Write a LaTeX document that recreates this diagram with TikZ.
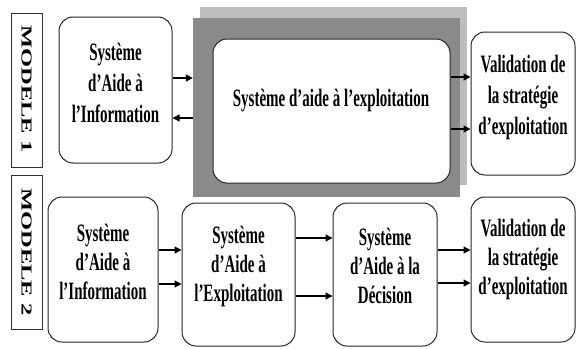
\documentclass[tikz,border=0pt]{standalone}
\usepackage{fontspec}
\usepackage{graphicx}
\setmainfont{Liberation Serif}[FakeStretch=0.6]
\newfontfamily\labfont{Liberation Serif}
\usetikzlibrary{arrows.meta,calc}
\begin{document}
\begin{tikzpicture}[x=1pt,y=-1pt,
 box/.style={draw=black!85, line width=1pt, rounded corners=14pt, fill=white, inner sep=0pt},
 labbox/.style={draw=black!80, line width=1pt, fill=white, inner sep=0pt, minimum width=31pt, minimum height=154pt},
 labtxt/.style={rotate=-90, inner sep=0pt, font=\labfont\bfseries\fontsize{24.5}{24.5}\selectfont},
 txtA/.style={font=\fontsize{25}{31}\selectfont\bfseries, align=center, inner sep=0pt},
 txtB/.style={font=\fontsize{25}{29}\selectfont\bfseries, align=center, inner sep=0pt},
 arr/.style={line width=1.3pt, -{Triangle[length=7pt,width=7pt]}},
]
\useasboundingbox (0,0) rectangle (577,348);
\fill[white] (0,0) rectangle (577,348);

% labels
\node[labbox] (L1) at (26.5,90) {};
\node[labtxt] (L1t) at (26.5,89) {\scalebox{1}[0.62]{MODELE 1}};
\node[labbox] (L2) at (26.5,252) {};
\node[labtxt] (L2t) at (26.5,252) {\scalebox{1}[0.62]{MODELE 2}};

% model 1
\node[box, minimum width=113pt, minimum height=146pt] (A) at (115.5,90) {};
\node[txtA] (tA) at (115.5,83) {Système\\d’Aide à\\l’Information};

\node[fill=black!26, inner sep=0pt, minimum width=267pt, minimum height=178pt] (G) at (333.5,96) {};
\node[fill=black!46, inner sep=0pt, minimum width=267pt, minimum height=179pt] (D) at (326.5,107.5) {};
\node[box, minimum width=237pt, minimum height=144pt] (I) at (331.5,111) {};
\node[txtA] (tI) at (331,101) {Système d’aide à l’exploitation};

\node[box, minimum width=104pt, minimum height=143pt] (V1) at (523,103.5) {};
\node[txtA] (tV1) at (523,97) {Validation de\\la stratégie\\d’exploitation};

\draw[arr] (A.east |- 0,78) -- (D.west |- 0,78);
\draw[arr] (D.west |- 0,118) -- (A.east |- 0,118);
\draw[arr] (I.east |- 0,77) -- (V1.west |- 0,77);
\draw[arr] (I.east |- 0,129) -- (V1.west |- 0,129);

% model 2
\node[box, minimum width=110pt, minimum height=145pt] (B1) at (103,269.5) {};
\node[txtB] (tB1) at (103,262) {Système\\d’Aide à\\l’Information};
\node[box, minimum width=113pt, minimum height=143pt] (B2) at (238.5,274.5) {};
\node[txtB] (tB2) at (238.5,266) {Système\\d’Aide à\\l’Exploitation};
\node[box, minimum width=104pt, minimum height=143pt] (B3) at (385,274.5) {};
\node[txtB] (tB3) at (385,266) {Système\\d’Aide à la\\Décision};
\node[box, minimum width=104pt, minimum height=145pt] (B4) at (523,269.5) {};
\node[txtB] (tB4) at (523,259) {Validation de\\la stratégie\\d’exploitation};

\draw[arr] (B1.east |- 0,250) -- (B2.west |- 0,250);
\draw[arr] (B1.east |- 0,284) -- (B2.west |- 0,284);
\draw[arr] (B2.east |- 0,238) -- (B3.west |- 0,238);
\draw[arr] (B2.east |- 0,296) -- (B3.west |- 0,296);
\draw[arr] (B3.east |- 0,250) -- (B4.west |- 0,250);
\draw[arr] (B3.east |- 0,283) -- (B4.west |- 0,283);
\end{tikzpicture}
\end{document}
